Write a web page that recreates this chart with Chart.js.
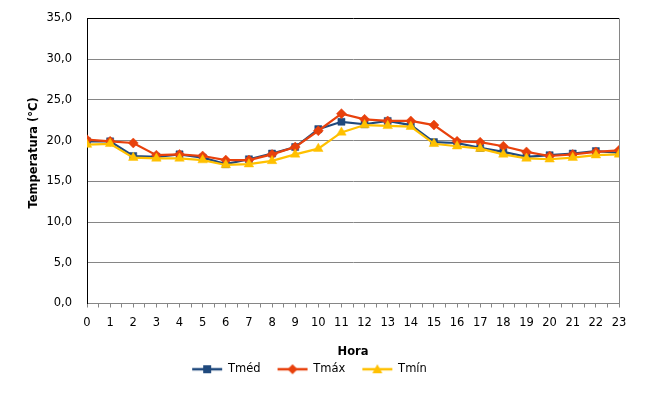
<!DOCTYPE html>
<html>
<head>
<meta charset="utf-8">
<script src="https://cdn.jsdelivr.net/npm/chart.js@4/dist/chart.umd.min.js"></script>
<style>
  html, body { margin: 0; padding: 0; background: #fff; }
  #wrap { width: 665px; height: 400px; }
</style>
</head>
<body>
<div id="wrap"><canvas id="myChart" width="665" height="400"></canvas></div>
<script>
// hourly temperatures (°C) //
var hours = ['0','1','2','3','4','5','6','7','8','9','10','11','12','13','14','15','16','17','18','19','20','21','22','23'];
var tMed = [19.9, 19.9, 18.1, 18.0, 18.3, 17.9, 17.1, 17.7, 18.4, 19.2, 21.4, 22.3, 22.0, 22.4, 21.9, 19.8, 19.7, 19.1, 18.6, 18.0, 18.2, 18.4, 18.7, 18.5];
var tMax = [20.1, 19.9, 19.7, 18.2, 18.3, 18.1, 17.6, 17.6, 18.3, 19.2, 21.2, 23.3, 22.6, 22.4, 22.4, 21.9, 19.9, 19.8, 19.3, 18.6, 18.1, 18.3, 18.6, 18.8];
var tMin = [19.5, 19.6, 17.9, 17.8, 17.8, 17.6, 17.0, 17.1, 17.5, 18.3, 19.0, 21.0, 21.9, 21.8, 21.7, 19.6, 19.3, 19.0, 18.3, 17.8, 17.7, 17.9, 18.2, 18.3];
var yTicks = [0, 5, 10, 15, 20, 25, 30, 35];

var FONT = 'DejaVu Sans';
var C_MED = '#1f497d', C_MAX = '#e8410c', C_MIN = '#ffc000';

function toPoints(arr) {
  return arr.map(function(v, i) { return { x: i, y: v }; });
}

// little line + marker picture for the legend
function legendIcon(color, shape) {
  var c = document.createElement('canvas');
  c.width = 32; c.height = 12;
  var g = c.getContext('2d');
  g.strokeStyle = color; g.fillStyle = color; g.lineWidth = 2.5;
  g.beginPath(); g.moveTo(1, 6); g.lineTo(31, 6); g.stroke();
  g.beginPath();
  if (shape === 'rect') g.rect(12, 2, 8, 8);
  else if (shape === 'rectRot') { g.moveTo(16, 1); g.lineTo(21, 6); g.lineTo(16, 11); g.lineTo(11, 6); g.closePath(); }
  else { g.moveTo(16, 1); g.lineTo(21, 10); g.lineTo(11, 10); g.closePath(); }
  g.fill();
  return c;
}

// datasets listed Tmín first so it is painted on top; legend shows them reversed
var series = [
  { label: 'Tmín', values: tMin, color: C_MIN, shape: 'triangle', radius: 5.5 },
  { label: 'Tmáx', values: tMax, color: C_MAX, shape: 'rectRot', radius: 5 },
  { label: 'Tméd', values: tMed, color: C_MED, shape: 'rect', radius: 5 }
];

var chart = document.getElementById('myChart');
var myChart = new Chart(chart, {
  type: 'line',
  data: {
    datasets: series.map(function(s) {
      return {
        label: s.label,
        data: toPoints(s.values),
        borderColor: s.color,
        backgroundColor: s.color,
        borderWidth: 2.2,
        pointStyle: s.shape,
        pointRadius: s.radius,
        pointBorderWidth: 0.5
      };
    })
  },
  options: {
    responsive: false,
    animation: false,
    layout: { padding: { top: 18.3, right: 46, left: 0, bottom: 15 } },
    plugins: {
      tooltip: { enabled: false },
      legend: {
        position: 'bottom',
        labels: {
          usePointStyle: true,
          pointStyleWidth: 30,
          padding: 17,
          color: '#000',
          font: { family: FONT, size: 11.5 },
          generateLabels: function(ch) {
            var out = [];
            for (var i = series.length - 1; i >= 0; i--) {
              out.push({
                text: series[i].label,
                pointStyle: legendIcon(series[i].color, series[i].shape),
                datasetIndex: i,
                fontColor: '#000',
                lineWidth: 0,
                strokeStyle: 'transparent',
                fillStyle: 'transparent'
              });
            }
            return out;
          }
        }
      }
    },
    scales: {
      x: {
        type: 'linear',
        min: 0,
        max: 23,
        afterBuildTicks: function(scale) {
          var t = [];
          for (var i = 0; i <= 46; i++) t.push({ value: i / 2 });
          scale.ticks = t;
        },
        afterFit: function(scale) { scale.height = 43; },
        border: { color: '#868686', width: 1 },
        grid: {
          drawOnChartArea: true,
          color: function(ctx) { return ctx.tick && ctx.tick.value === 23 ? '#868686' : 'transparent'; },
          tickColor: '#868686',
          tickLength: 4
        },
        ticks: {
          autoSkip: false,
          maxRotation: 0,
          padding: 9,
          color: '#000',
          font: { family: FONT, size: 11.5 },
          callback: function(v) { return Number.isInteger(v) ? hours[v] : ''; }
        },
        title: {
          display: true,
          text: 'Hora',
          color: '#000',
          font: { family: FONT, size: 11.5, weight: 'bold' },
          padding: { top: 0, bottom: -12 }
        }
      },
      y: {
        min: 0,
        max: 35,
        afterBuildTicks: function(scale) {
          scale.ticks = yTicks.map(function(v) { return { value: v }; });
        },
        afterFit: function(scale) { scale.width = 87; },
        border: { color: '#000', width: 1 },
        grid: {
          color: function(ctx) { return ctx.tick && ctx.tick.value === 35 ? '#000' : '#868686'; },
          drawTicks: true,
          tickLength: 15,
          tickColor: 'transparent'
        },
        ticks: {
          autoSkip: false,
          padding: 0,
          z: 1,
          color: '#000',
          font: { family: FONT, size: 11.5 },
          callback: function(v) { return v.toFixed(1).replace('.', ','); }
        },
        title: {
          display: true,
          text: '    Temperatura (°C)',
          color: '#000',
          font: { family: FONT, size: 11.5, weight: 'bold' },
          padding: { top: 27, bottom: 0 }
        }
      }
    }
  }
});
</script>
</body>
</html>
